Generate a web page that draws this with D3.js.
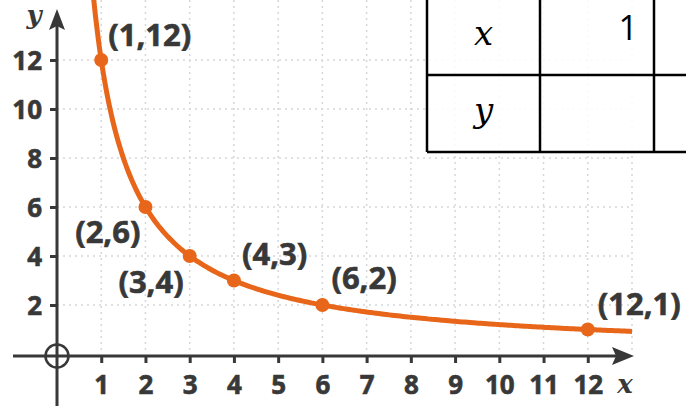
<!DOCTYPE html>
<html>
<head>
<meta charset="utf-8">
<script src="https://cdn.jsdelivr.net/npm/d3@7"></script>
<style>
  body { margin: 0; background: #fff; }
  svg { display: block; }
</style>
</head>
<body>
<svg class="canvas" width="686" height="406"></svg>
<script>
// data
const pointX = [1, 2, 3, 4, 6, 12];
const pointY = [12, 6, 4, 3, 2, 1];
const pointLabels = ["(1,12)", "(2,6)", "(3,4)", "(4,3)", "(6,2)", "(12,1)"];
const xTicks = [1, 2, 3, 4, 5, 6, 7, 8, 9, 10, 11, 12];
const yTicks = [2, 4, 6, 8, 10, 12];
const tableHeaders = ["x", "y"];
const tableFirstX = ["1"];

// label placement relative to each point (dx, dy, anchor)
const labelOffsets = [
  [7, -25, "start"],
  [-5, 25, "end"],
  [-6, 26, "end"],
  [8, -26, "start"],
  [9, -27, "start"],
  [10, -25, "start"],
];

const orange = "#e8661a";
const ink = "#383838";

const svg = d3.select(".canvas");

const x = d3.scaleLinear().domain([0, 13]).range([57, 632]);
const y = d3.scaleLinear().domain([0, 12]).range([354, 60]);

// dotted grid
const grid = svg.append("g");
grid
  .selectAll("line.v")
  .data(d3.range(1, 14))
  .enter()
  .append("line")
  .attr("x1", (d) => x(d))
  .attr("x2", (d) => x(d))
  .attr("y1", 0)
  .attr("y2", y(0))
  .attr("stroke", "#d4d7dc")
  .attr("stroke-width", 1.5)
  .attr("stroke-dasharray", "2,4");
grid
  .selectAll("line.h")
  .data(yTicks)
  .enter()
  .append("line")
  .attr("x1", x(0))
  .attr("x2", x(13))
  .attr("y1", (d) => y(d))
  .attr("y2", (d) => y(d))
  .attr("stroke", "#d4d7dc")
  .attr("stroke-width", 1.5)
  .attr("stroke-dasharray", "2,4");

// axes
const xAxis = d3
  .axisBottom(x)
  .tickValues(xTicks)
  .tickSize(7)
  .tickPadding(6);
const yAxis = d3
  .axisLeft(y)
  .tickValues(yTicks)
  .tickSize(7)
  .tickPadding(8);

const xAxisGroup = svg
  .append("g")
  .attr("transform", `translate(0,${y(0) + 2})`)
  .call(xAxis);
const yAxisGroup = svg
  .append("g")
  .attr("transform", `translate(${x(0)},0)`)
  .call(yAxis);

[xAxisGroup, yAxisGroup].forEach((g) => {
  g.select(".domain").remove();
  g.selectAll("line").attr("stroke", ink).attr("stroke-width", 3);
  g.selectAll("text")
    .attr("fill", ink)
    .attr("stroke", ink)
    .attr("stroke-width", 0.6)
    .style("font-family", "'Open Sans', sans-serif")
    .style("font-weight", "bold")
    .style("font-size", "26px");
});
yAxisGroup.selectAll("text").attr("dy", "0.36em");
xAxisGroup.selectAll("text").attr("dy", "0.95em");

const axisY = y(0) + 2;
svg
  .append("line")
  .attr("x1", 13)
  .attr("x2", 620)
  .attr("y1", axisY)
  .attr("y2", axisY)
  .attr("stroke", ink)
  .attr("stroke-width", 3);
svg
  .append("line")
  .attr("x1", x(0))
  .attr("x2", x(0))
  .attr("y1", 22)
  .attr("y2", 406)
  .attr("stroke", ink)
  .attr("stroke-width", 3);
svg
  .append("path")
  .attr("d", `M634,${axisY} L612,${axisY - 9} L616,${axisY} L612,${axisY + 9} Z`)
  .attr("fill", ink);
svg
  .append("path")
  .attr("d", `M${x(0)},9 L${x(0) - 8},30 L${x(0)},26 L${x(0) + 8},30 Z`)
  .attr("fill", ink);
svg
  .append("circle")
  .attr("cx", x(0))
  .attr("cy", axisY)
  .attr("r", 11.5)
  .attr("fill", "none")
  .attr("stroke", ink)
  .attr("stroke-width", 2.5);

svg
  .append("text")
  .attr("x", 34)
  .attr("y", 24)
  .attr("text-anchor", "middle")
  .attr("fill", ink)
  .style("font-family", "'DejaVu Serif', serif")
  .style("font-style", "italic")
  .style("font-weight", "bold")
  .style("font-size", "26px")
  .text("y");
svg
  .append("text")
  .attr("x", 625)
  .attr("y", 393)
  .attr("text-anchor", "middle")
  .attr("fill", ink)
  .style("font-family", "'DejaVu Serif', serif")
  .style("font-style", "italic")
  .style("font-weight", "bold")
  .style("font-size", "26px")
  .text("x");

// curve y = 12 / x
const xMin = 12 / y.invert(-10);
const curveData = d3.range(0, 201).map((i) => {
  const t = xMin + ((13 - xMin) * i) / 200;
  return [t, 12 / t];
});
const line = d3
  .line()
  .x((d) => x(d[0]))
  .y((d) => y(d[1]))
  .curve(d3.curveMonotoneX);
svg
  .append("path")
  .datum(curveData)
  .attr("d", line)
  .attr("fill", "none")
  .attr("stroke", orange)
  .attr("stroke-width", 5);

const points = pointX.map((px, i) => ({ x: px, y: pointY[i], label: pointLabels[i], off: labelOffsets[i] }));

svg
  .selectAll("circle.pt")
  .data(points)
  .enter()
  .append("circle")
  .attr("class", "pt")
  .attr("cx", (d) => x(d.x))
  .attr("cy", (d) => y(d.y))
  .attr("r", 7)
  .attr("fill", orange);

svg
  .selectAll("text.lbl")
  .data(points)
  .enter()
  .append("text")
  .attr("class", "lbl")
  .attr("x", (d) => x(d.x) + d.off[0])
  .attr("y", (d) => y(d.y) + d.off[1])
  .attr("dy", "0.35em")
  .attr("text-anchor", (d) => d.off[2])
  .attr("fill", ink)
  .attr("stroke", ink)
  .attr("stroke-width", 0.6)
  .style("font-family", "'Open Sans', sans-serif")
  .style("font-weight", "bold")
  .style("font-size", "31px")
  .text((d) => d.label);

// table in the top right corner
const table = svg.append("g");
const colX = [427, 540, 654, 760];
const rowY = [-2, 75, 152];
table
  .append("rect")
  .attr("x", colX[0])
  .attr("y", rowY[0])
  .attr("width", colX[3] - colX[0])
  .attr("height", rowY[2] - rowY[0])
  .attr("fill", "#fff")
  .attr("fill-opacity", 0.85);
table
  .selectAll("line.col")
  .data(colX)
  .enter()
  .append("line")
  .attr("x1", (d) => d)
  .attr("x2", (d) => d)
  .attr("y1", rowY[0])
  .attr("y2", rowY[2])
  .attr("stroke", "#000")
  .attr("stroke-width", 2.5);
table
  .selectAll("line.row")
  .data(rowY)
  .enter()
  .append("line")
  .attr("x1", colX[0])
  .attr("x2", colX[3])
  .attr("y1", (d) => d)
  .attr("y2", (d) => d)
  .attr("stroke", "#000")
  .attr("stroke-width", 2.5);
table
  .selectAll("text.head")
  .data(tableHeaders)
  .enter()
  .append("text")
  .attr("x", (colX[0] + colX[1]) / 2)
  .attr("y", (d, i) => (rowY[i] + rowY[i + 1]) / 2 + 2)
  .attr("dy", "0.2em")
  .attr("text-anchor", "middle")
  .attr("fill", "#000")
  .style("font-family", "'DejaVu Serif', serif")
  .style("font-style", "italic")
  .style("font-size", "34px")
  .text((d) => d);
table
  .selectAll("text.val")
  .data(tableFirstX)
  .enter()
  .append("text")
  .attr("x", colX[2] - 16)
  .attr("y", 40)
  .attr("text-anchor", "end")
  .attr("fill", "#000")
  .style("font-family", "'Open Sans', sans-serif")
  .style("font-size", "34px")
  .text((d) => d);
</script>
</body>
</html>
